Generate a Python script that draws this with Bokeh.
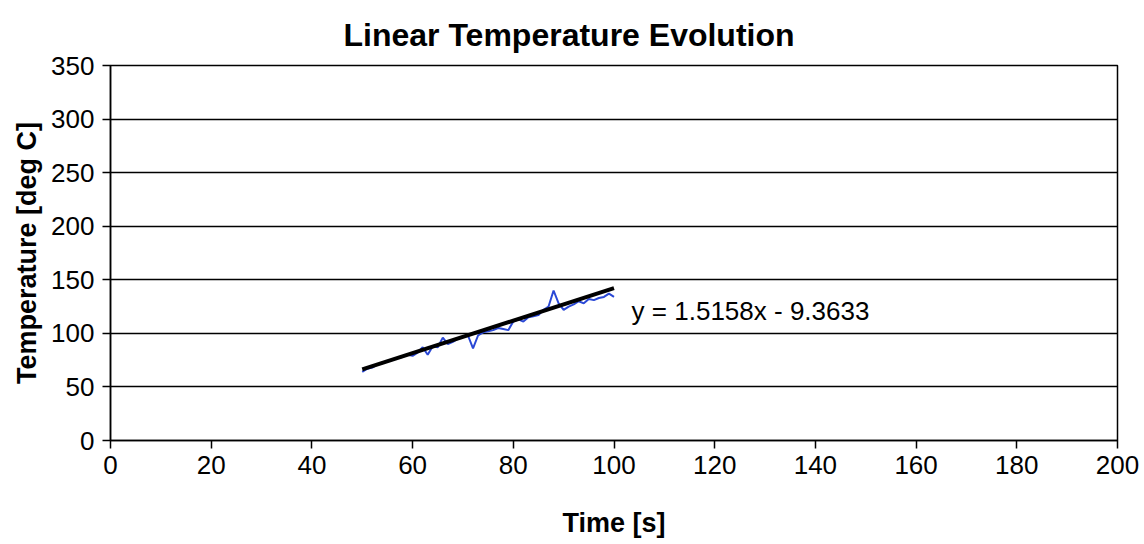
from bokeh.plotting import figure
from bokeh.models import Range1d, FixedTicker, Label
from bokeh.embed import file_html
from bokeh.resources import INLINE

# Data
time_s = list(range(50, 101))
temp_c = [64, 67, 68, 71, 72, 74, 75, 77, 78, 80,
          79, 82, 87, 80, 88, 87, 96, 90, 92, 95,
          97, 98, 86, 98, 101, 102, 103, 105, 104, 103,
          111, 113, 111, 115, 116, 117, 122, 125, 140, 128,
          122, 125, 127, 130, 128, 132, 131, 133, 134, 137,
          134]
slope = 1.5158
intercept = -9.3633
trend_x = [50, 100]
trend_y = [slope * x + intercept for x in trend_x]
x_ticks = list(range(0, 201, 20))
y_ticks = list(range(0, 351, 50))
equation = "y = 1.5158x - 9.3633"

FONT = "Liberation Sans"

p = figure(width=1144, height=544, output_backend="svg", toolbar_location=None,
           x_range=Range1d(0, 200), y_range=Range1d(0, 350),
           min_border_left=110, min_border_right=27,
           min_border_top=65, min_border_bottom=104,
           title="Linear Temperature Evolution")

p.title.text_font = FONT
p.title.text_font_size = "32px"
p.title.text_font_style = "bold"
p.title.align = "left"
p.title.offset = 233
p.title.text_color = "black"
p.title.standoff = 26

p.outline_line_color = "black"
p.outline_line_width = 1.5
p.xgrid.grid_line_color = None
p.ygrid.grid_line_color = "black"
p.ygrid.grid_line_width = 1.5
p.ygrid.ticker = FixedTicker(ticks=y_ticks)

for ax in (p.xaxis[0], p.yaxis[0]):
    ax.axis_line_color = "black"
    ax.axis_line_width = 1.5
    ax.major_tick_line_color = "black"
    ax.major_tick_line_width = 1.5
    ax.major_tick_in = 0
    ax.major_tick_out = 8
    ax.minor_tick_line_color = None
    ax.major_label_text_font = FONT
    ax.major_label_text_font_size = "26px"
    ax.major_label_text_color = "black"
    ax.axis_label_text_font = FONT
    ax.axis_label_text_font_size = "27px"
    ax.axis_label_text_font_style = "bold"
    ax.axis_label_text_color = "black"

p.xaxis[0].major_label_standoff = 7
p.yaxis[0].major_label_standoff = 8
p.xaxis[0].ticker = FixedTicker(ticks=x_ticks)
p.yaxis[0].ticker = FixedTicker(ticks=y_ticks)
p.xaxis[0].axis_label = "Time [s]"
p.yaxis[0].axis_label = "Temperature [deg C]"
p.xaxis[0].axis_label_standoff = 31
p.yaxis[0].axis_label_standoff = 6

p.line(time_s, temp_c, line_color="#2a48d6", line_width=2)
p.line(trend_x, trend_y, line_color="black", line_width=4)

p.add_layout(Label(x=103.5, y=121, text=equation, text_font=FONT,
                   text_font_size="26px", text_color="black",
                   text_baseline="middle", text_align="left"))

open("out.html", "w").write(file_html(p, INLINE))
